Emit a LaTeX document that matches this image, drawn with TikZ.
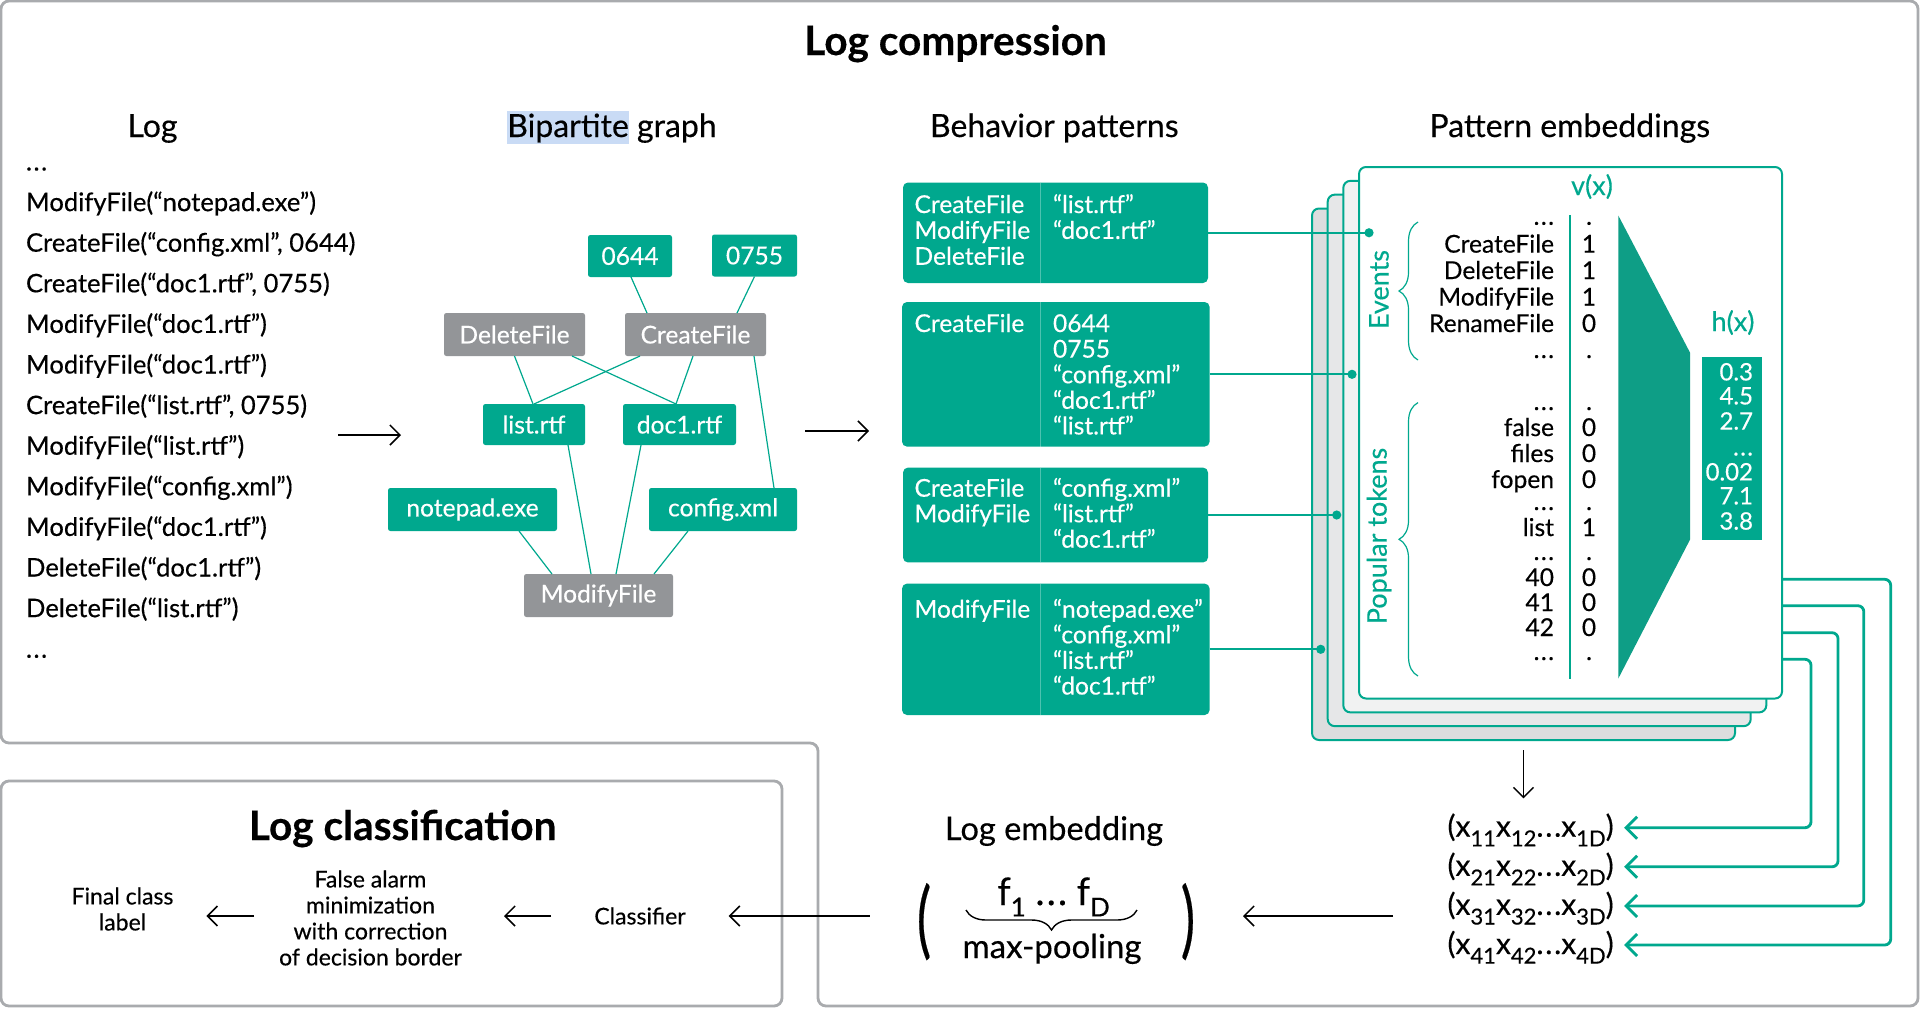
\documentclass[tikz,border=0pt]{standalone}
\usepackage{graphicx}
\usepackage{fontspec}
\setmainfont{Lato}[FakeBold=0.35]
\usetikzlibrary{arrows.meta,decorations.pathreplacing,calc}
\definecolor{kteal}{HTML}{00A88E}
\definecolor{kteald}{HTML}{0E9E86}
\definecolor{kgray}{HTML}{939598}
\definecolor{kframe}{HTML}{A9ABAE}
\definecolor{kcA}{HTML}{DCDDDE}
\definecolor{kcB}{HTML}{E6E7E8}
\definecolor{kcC}{HTML}{F1F2F2}
\definecolor{khl}{HTML}{C9DBF5}
\newcommand{\ddd}{.\kern0.06em.\kern0.06em.}
\newcommand{\xs}[1]{\raisebox{-0.32em}{\fontsize{11}{11}\selectfont #1}}
\newcommand{\fsub}[1]{\raisebox{-0.3em}{\fontsize{13}{13}\selectfont #1}}
\newcommand{\tallpar}[1]{\scalebox{1}[1.55]{\fontsize{27}{27}\selectfont #1}}
\begin{document}
\begin{tikzpicture}[x=0.5pt,y=-0.5pt,
  every node/.style={inner sep=0pt,outer sep=0pt},
  logt/.style={anchor=base west,font=\fontsize{12.8}{15}\selectfont},
  hdr/.style={anchor=base,font=\fontsize{16}{18}\selectfont},
  ttl/.style={anchor=base,font=\bfseries\fontsize{20.3}{23}\selectfont},
  gbox/.style={fill=kteal,text=white,rounded corners=1.2pt,font=\fontsize{12.3}{14}\selectfont},
  gboxg/.style={gbox,fill=kgray},
  gedge/.style={draw=kteal,line width=0.6pt},
  pbox/.style={fill=kteal,rounded corners=2.5pt},
  ptxt/.style={anchor=base west,text=white,font=\fontsize{12.3}{14}\selectfont},
  card/.style={draw=kteal,line width=1pt,rounded corners=3.5pt},
  ctxt/.style={anchor=base east,font=\fontsize{12.3}{14}\selectfont},
  cval/.style={anchor=base,font=\fontsize{12.3}{14}\selectfont},
  htxt/.style={anchor=base east,text=white,font=\fontsize{12}{14}\selectfont},
  tlbl/.style={text=kteal,font=\fontsize{13.5}{16}\selectfont},
  tline/.style={draw=kteal,line width=0.9pt},
  dotn/.style={circle,fill=kteal,minimum size=4.6pt},
  arr/.style={draw=black,line width=0.75pt,-{Straight Barb[length=5pt,width=10pt]}},
  fbk/.style={draw=kteal,line width=1.4pt,rounded corners=3pt,-{Straight Barb[length=5.5pt,width=11pt]}},
  frm/.style={draw=kframe,line width=1.4pt,rounded corners=4pt},
  btxt/.style={font=\fontsize{11.5}{13}\selectfont,align=center},
  rowt/.style={anchor=base,font=\fontsize{15}{18}\selectfont},
]
\useasboundingbox (0,0) rectangle (1920,1008);
\fill[white] (0,0) rectangle (1920,1008);
% frames
\draw[frm] (1,1) -- (1918,1) -- (1918,1006) -- (818,1006) -- (818,743) -- (1,743) -- cycle;
\draw[frm] (1,781) rectangle (782,1006);

% titles and headers
\node[ttl] (tcomp) at (955.5,55) {Log compression};
\node[hdr] (hlog) at (152.5,137) {Log};
\node[hdr] (hbip) at (612,137) {{\setlength{\fboxsep}{0pt}\colorbox{khl}{\rule[-3.5pt]{0pt}{16.5pt}Bipartite}} graph};
\node[hdr] (hbeh) at (1054.3,137) {Behavior patterns};
\node[hdr] (hpat) at (1569.8,137) {Pattern embeddings};

% log list
\foreach \lab [count=\i from 0] in {\ddd,
 ModifyFile(“notepad.exe”),
 {CreateFile(“config.xml”, 0644)},
 {CreateFile(“doc1.rtf”, 0755)},
 ModifyFile(“doc1.rtf”),
 ModifyFile(“doc1.rtf”),
 {CreateFile(“list.rtf”, 0755)},
 ModifyFile(“list.rtf”),
 ModifyFile(“config.xml”),
 ModifyFile(“doc1.rtf”),
 DeleteFile(“doc1.rtf”),
 DeleteFile(“list.rtf”),
 \ddd}
 {\node[logt] (lg\i) at (26,{170.5+40.6*\i}) {\lab};}

% arrows between columns
\coordinate (ga1) at (338,435);
\coordinate (ga2) at (401,435);
\draw[arr] (ga1) -- (ga2);
\coordinate (gb1) at (805,431);
\coordinate (gb2) at (869,431);
\draw[arr] (gb1) -- (gb2);

% bipartite graph
\node[gbox,minimum width=42pt,minimum height=21pt] (n0644) at (630,256) {0644};
\node[gbox,minimum width=42.5pt,minimum height=21pt] (n0755) at (754.5,255.5) {0755};
\node[gboxg,minimum width=70.5pt,minimum height=21.5pt] (ndel) at (514.5,334.5) {DeleteFile};
\node[gboxg,minimum width=70.5pt,minimum height=21.5pt] (ncre) at (695.5,334.5) {CreateFile};
\node[gbox,minimum width=51pt,minimum height=20.5pt] (nlist) at (534,424.5) {list.rtf};
\node[gbox,minimum width=56.5pt,minimum height=20.5pt] (ndoc) at (679.5,424.5) {doc1.rtf};
\node[gbox,minimum width=84.5pt,minimum height=21.5pt] (nnote) at (472.5,509.5) {notepad.exe};
\node[gbox,minimum width=74pt,minimum height=21.5pt] (ncfg) at (723,509.5) {config.xml};
\node[gboxg,minimum width=74.5pt,minimum height=21.5pt] (nmod) at (598.5,595.5) {ModifyFile};

\draw[gedge] ([xshift=0.5pt]n0644.south) -- ([xshift=-24.25pt]ncre.north);
\draw[gedge] (n0755.south) -- ([xshift=20.75pt]ncre.north);
\draw[gedge] (ndel.south) -- ([xshift=-0.5pt]nlist.north);
\draw[gedge] ([xshift=28.75pt]ndel.south) -- ([xshift=-1.75pt]ndoc.north);
\draw[gedge] ([xshift=-27.75pt]ncre.south) -- (nlist.north);
\draw[gedge] ([xshift=-1.25pt]ncre.south) -- ([xshift=-1.75pt]ndoc.north);
\draw[gedge] ([xshift=29.25pt]ncre.south) -- ([xshift=25.5pt]ncfg.north);
\draw[gedge] ([xshift=17pt]nlist.south) -- ([xshift=-3.75pt]nmod.north);
\draw[gedge] ([xshift=-19.25pt]ndoc.south) -- ([xshift=8.75pt]nmod.north);
\draw[gedge] ([xshift=23.25pt]nnote.south) -- ([xshift=-23.25pt]nmod.north);
\draw[gedge] ([xshift=-17.5pt]ncfg.south) -- ([xshift=27.75pt]nmod.north);

% behavior pattern boxes
\node[pbox,minimum width=152.5pt,minimum height=50.25pt] (b1) at (1055.5,232.75) {};
\node[pbox,minimum width=153.8pt,minimum height=72.3pt] (b2) at (1055.8,374.3) {};
\node[pbox,minimum width=152.5pt,minimum height=47.45pt] (b3) at (1055.5,515) {};
\node[pbox,minimum width=153.8pt,minimum height=65.7pt] (b4) at (1055.8,649.3) {};
\foreach \bb in {b1,b2,b3,b4}
  \draw[white,opacity=0.3,line width=0.5pt] (\bb.north west -| 1040.5,0) -- (\bb.south west -| 1040.5,0);
\foreach \lab [count=\i] in {CreateFile,ModifyFile,DeleteFile}
  \node[ptxt] (b1l\i) at (914.5,{213+25.9*(\i-1)}) {\lab};
\foreach \lab [count=\i] in {“list.rtf”,“doc1.rtf”}
  \node[ptxt] (b1r\i) at (1053,{213+25.9*(\i-1)}) {\lab};
\node[ptxt] (b2l1) at (914.5,332) {CreateFile};
\foreach \lab [count=\i] in {0644,0755,“config.xml”,“doc1.rtf”,“list.rtf”}
  \node[ptxt] (b2r\i) at (1053,{332+25.6*(\i-1)}) {\lab};
\foreach \lab [count=\i] in {CreateFile,ModifyFile}
  \node[ptxt] (b3l\i) at (914.5,{496.7+25.5*(\i-1)}) {\lab};
\foreach \lab [count=\i] in {“config.xml”,“list.rtf”,“doc1.rtf”}
  \node[ptxt] (b3r\i) at (1053,{496.7+25.5*(\i-1)}) {\lab};
\node[ptxt] (b4l1) at (914.5,617.7) {ModifyFile};
\foreach \lab [count=\i] in {“notepad.exe”,“config.xml”,“list.rtf”,“doc1.rtf”}
  \node[ptxt] (b4r\i) at (1053,{617.7+25.6*(\i-1)}) {\lab};

% stacked cards
\node[card,fill=kcA,minimum width=211.5pt,minimum height=265.75pt] (c1) at (1523.5,474.25) {};
\node[card,fill=kcB,minimum width=211.5pt,minimum height=265.75pt] (c2) at (1539.2,460.4) {};
\node[card,fill=kcC,minimum width=211.5pt,minimum height=265.75pt] (c3) at (1554.8,446.6) {};
\node[card,fill=white,minimum width=211.5pt,minimum height=265.75pt] (c4) at (1570.5,432.75) {};

% connectors from boxes to cards
\coordinate (d1) at (1369,0);
\coordinate (d2) at (1352,0);
\coordinate (d3) at (1336.7,0);
\coordinate (d4) at (1320.7,0);
\draw[tline] (b1.east) -- (b1.east -| d1) node[dotn] (dt1) {};
\draw[tline] (b2.east) -- (b2.east -| d2) node[dotn] (dt2) {};
\draw[tline] (b3.east) -- (b3.east -| d3) node[dotn] (dt3) {};
\draw[tline] (b4.east) -- (b4.east -| d4) node[dotn] (dt4) {};

% card content
\node[tlbl,anchor=base] (vx) at (1592,195) {v(x)};
\draw[draw=kteal,line width=0.6pt] (1570,214.8) -- (1570,678.5);
\fill[kteald] (1618.3,215.5) -- (1690,352.6) -- (1690,539.6) -- (1618.3,678.5) -- cycle;
\foreach \lab/\yy/\vv [count=\i] in {\ddd/224.8/., CreateFile/252.6/1, DeleteFile/279/1, ModifyFile/305.5/1, RenameFile/332/0, \ddd/358/., \ddd/410/., false/436/0, files/462/0, fopen/488/0, \ddd/510/., list/536/1, \ddd/560/., 40/586/0, 41/611/0, 42/636/0, \ddd/660/.}
  {\node[ctxt] (cl\i) at (1554,\yy) {\lab};
   \node[cval] (cv\i) at (1589,\yy) {\vv};}
\draw[draw=kteal,line width=0.6pt,decorate,decoration={brace,amplitude=9.5pt}] (1418,360) -- (1418,222);
\draw[draw=kteal,line width=0.6pt,decorate,decoration={brace,amplitude=9.5pt}] (1418,676) -- (1418,402.6);
\node[tlbl,rotate=90] (ev) at (1379,289.6) {Events};
\node[tlbl,rotate=90] (pt) at (1379,536) {Popular tokens};
\node[tlbl,anchor=base] (hx) at (1733,331) {h(x)};
\node[fill=kteal,minimum width=30pt,minimum height=91.3pt] (hb) at (1732.3,448.3) {};
\foreach \vv/\yy [count=\i] in {0.3/380.4, 4.5/404.4, 2.7/429.6, \ddd/455.5, 0.02/480.4, 7.1/504.4, 3.8/529.6}
  \node[htxt] (hv\i) at (1753,\yy) {\vv};

% rows of pattern embeddings
\node[rowt] (r1) at (1530.6,836.7) {(x\xs{11}x\xs{12}\ddd x\xs{1D})};
\node[rowt] (r2) at (1530.6,875.8) {(x\xs{21}x\xs{22}\ddd x\xs{2D})};
\node[rowt] (r3) at (1530.6,914.9) {(x\xs{31}x\xs{32}\ddd x\xs{3D})};
\node[rowt] (r4) at (1530.6,954) {(x\xs{41}x\xs{42}\ddd x\xs{4D})};
\draw[arr] ([yshift=-5pt]c1.south) -- ($(c1.south |- r1.north)+(0,-15)$);
\draw[fbk] ([yshift=59.6pt]c4.south east) -- ++(108.7,0) |- ([shift={(5.2pt,4.5pt)}]r4.base east);
\draw[fbk] ([yshift=46.4pt]c4.south east) -- ++(81.8,0) |- ([shift={(5.2pt,4.5pt)}]r3.base east);
\draw[fbk] ([yshift=32.9pt]c4.south east) -- ++(56,0) |- ([shift={(5.2pt,4.5pt)}]r2.base east);
\draw[fbk] ([yshift=19.6pt]c4.south east) -- ++(29,0) |- ([shift={(5.2pt,4.5pt)}]r1.base east);

% log embedding
\node[anchor=base,font=\fontsize{16.3}{18}\selectfont] (lemb) at (1054,840) {Log embedding};
\node[minimum width=140pt,minimum height=41pt] (emb) at (1056,916) {};
\node[anchor=base] (lpar) at (924,948) {\tallpar{(}};
\node[anchor=base] (rpar) at (1188,948) {\tallpar{)}};
\node[anchor=base,font=\fontsize{19}{20}\selectfont] (fvec) at (1053.6,905) {f\fsub{1} \ddd\ f\fsub{D}};
\draw[line width=0.7pt,decorate,decoration={brace,amplitude=10pt}] (1137,910) -- (966,910);
\node[anchor=base,font=\fontsize{16.5}{18}\selectfont] (mp) at (1052,958) {max-pooling};
\coordinate (rowsin) at (1393,916);
\draw[arr] (rowsin) -- ([xshift=23.5pt]emb.east);

% log classification
\node[ttl] (tcls) at (402.6,840) {Log classification};
\node[btxt,minimum width=47.5pt] (cls) at (640,916) {Classifier};
\node[btxt,minimum width=98.9pt] (fa) at (370.5,918) {False alarm\\minimization\\with correction\\of decision border};
\node[btxt,minimum width=53.5pt] (fin) at (122.5,909) {Final class\\label};
\draw[arr] ([xshift=-23.2pt]emb.west) -- ([xshift=20.6pt]cls.east);
\draw[arr] ($(cls.west)+(-41.5,0)$) -- ($(fa.east |- cls.west)+(34.6,0)$);
\draw[arr] ($(fa.west |- cls.west)+(-17.6,0)$) -- ($(fin.east |- cls.west)+(30.4,0)$);
\end{tikzpicture}
\end{document}
